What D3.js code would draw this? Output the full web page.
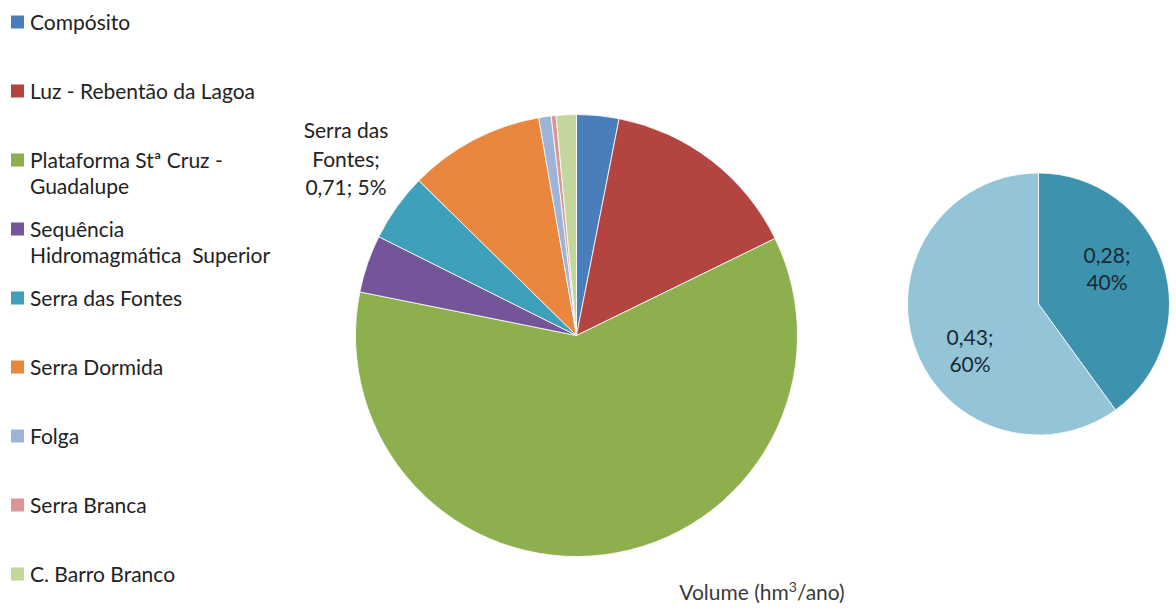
<!DOCTYPE html>
<html>
<head>
<meta charset="utf-8">
<script src="https://cdn.jsdelivr.net/npm/d3@7"></script>
<style>
  html, body { margin: 0; padding: 0; background: #fff; }
  svg { display: block; }
  text { font-family: Lato, "Open Sans", sans-serif; }
</style>
</head>
<body>
<svg id="chart" width="1176" height="614"></svg>
<script>
// Annual volume per aquifer unit (hm³/ano)
const units = [
  "Compósito",
  "Luz - Rebentão da Lagoa",
  "Plataforma Stª Cruz - Guadalupe",
  "Sequência Hidromagmática Superior",
  "Serra das Fontes",
  "Serra Dormida",
  "Folga",
  "Serra Branca",
  "C. Barro Branco"
];
const volumes = [0.44, 2.09, 8.60, 0.60, 0.71, 1.41, 0.13, 0.05, 0.21];
const unitColors = ["#4a7ebb", "#b3443f", "#8eaf4d", "#75559a", "#3fa0bc",
                    "#e9873e", "#9eb3d8", "#d99694", "#c3d69b"];
// Legend lines (long names wrap)
const legendLines = [
  ["Compósito"],
  ["Luz - Rebentão da Lagoa"],
  ["Plataforma Stª Cruz -", "Guadalupe"],
  ["Sequência", "Hidromagmática  Superior"],
  ["Serra das Fontes"],
  ["Serra Dormida"],
  ["Folga"],
  ["Serra Branca"],
  ["C. Barro Branco"]
];

// Breakdown of Serra das Fontes
const detailValues = [0.284, 0.426];
const detailColors = ["#3d93ad", "#93c4d8"];

const fmt = v => d3.format(".2f")(v).replace(".", ",");
const pct = p => Math.round(p * 100) + "%";
const FONT = 21;

const svg = d3.select("#chart");
const pie = d3.pie().sort(null).value(d => d);

// ---- main pie ----
const main = { cx: 576.5, cy: 335.5, r: 221 };
const mainArc = d3.arc().innerRadius(0).outerRadius(main.r);
const gMain = svg.append("g").attr("transform", `translate(${main.cx},${main.cy})`);
const mainSlices = pie(volumes);
gMain.selectAll("path").data(mainSlices).join("path")
  .attr("d", mainArc)
  .attr("fill", (d, i) => unitColors[i])
  .attr("stroke", "#fff")
  .attr("stroke-width", 0.8)
  .attr("stroke-linejoin", "round");

// label for Serra das Fontes, set outside the pie
const total = d3.sum(volumes);
const sfIdx = 4;
const sfLabel = ["Serra das", "Fontes;", `${fmt(volumes[sfIdx])}; ${pct(volumes[sfIdx] / total)}`];
svg.append("g").selectAll("text").data(sfLabel).join("text")
  .attr("x", 346)
  .attr("y", (d, i) => 138 + i * 28.5)
  .attr("text-anchor", "middle")
  .attr("font-size", FONT)
  .attr("fill", "#222")
  .text(d => d);

// ---- detail pie ----
const det = { cx: 1038.5, cy: 304, r: 131 };
const detArc = d3.arc().innerRadius(0).outerRadius(det.r);
const gDet = svg.append("g").attr("transform", `translate(${det.cx},${det.cy})`);
const detSlices = pie(detailValues);
const detTotal = d3.sum(detailValues);
gDet.selectAll("path").data(detSlices).join("path")
  .attr("d", detArc)
  .attr("fill", (d, i) => detailColors[i])
  .attr("stroke", "#fff")
  .attr("stroke-width", 0.8);

const labelR = det.r * 0.55;
detSlices.forEach(s => {
  const mid = (s.startAngle + s.endAngle) / 2;
  const x = labelR * Math.sin(mid);
  // push labels away from the horizontal midline
  const y = -labelR * Math.cos(mid) - Math.cos(mid) * 62;
  const t = gDet.append("text")
    .attr("text-anchor", "middle")
    .attr("font-size", FONT)
    .attr("fill", "#1a2a33");
  [`${fmt(s.data)};`, pct(s.data / detTotal)].forEach((line, k) => {
    t.append("tspan").attr("x", x).attr("y", y + k * 27).text(line);
  });
});

// ---- legend ----
const legend = svg.append("g");
const legY = d3.scalePoint().domain(d3.range(units.length)).range([29.5, 581.5]);
units.forEach((u, i) => {
  const y = legY(i);
  legend.append("rect")
    .attr("x", 11).attr("y", y - 14)
    .attr("width", 13).attr("height", 13)
    .attr("fill", unitColors[i]);
  legendLines[i].forEach((line, k) => {
    legend.append("text")
      .attr("x", 30)
      .attr("y", y + k * 26)
      .attr("font-size", FONT)
      .attr("fill", "#222")
      .attr("xml:space", "preserve")
      .text(line);
  });
});

// ---- title ----
const title = svg.append("text")
  .attr("x", 762).attr("y", 600)
  .attr("text-anchor", "middle")
  .attr("font-size", FONT)
  .attr("fill", "#3a3a3a");
title.append("tspan").text("Volume (hm");
title.append("tspan").attr("font-size", 14).attr("dy", -8).text("3");
title.append("tspan").attr("dy", 8).text("/ano)");
</script>
</body>
</html>
